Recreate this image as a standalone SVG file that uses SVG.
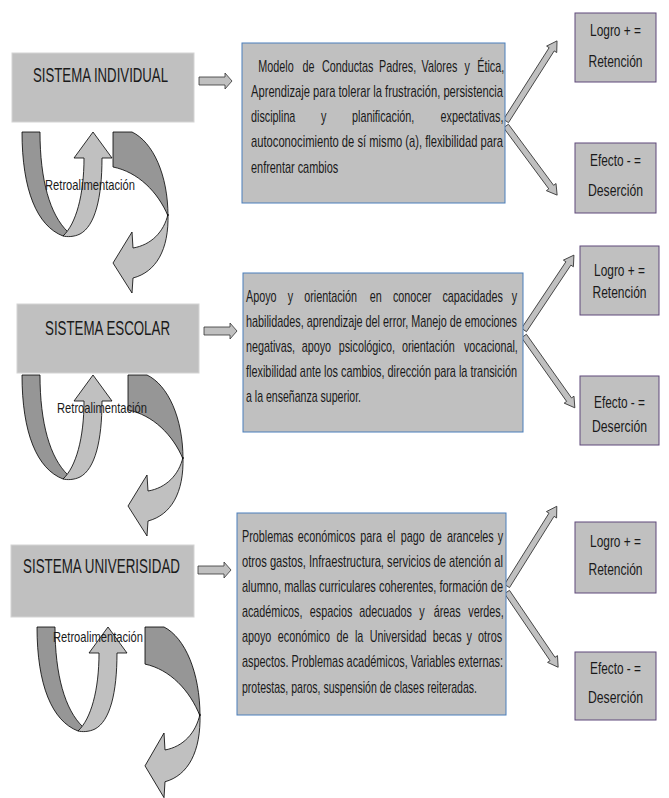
<svg xmlns="http://www.w3.org/2000/svg" xmlns:xlink="http://www.w3.org/1999/xlink" width="669" height="798" viewBox="0 0 669 798">
<style>
.sys{fill:#c0c0c0;stroke:#d4d4d4;stroke-width:1}
.tb{fill:#c0c0c0;stroke:#4a7ebb;stroke-width:1}
.res{fill:#c0c0c0;stroke:#5f497a;stroke-width:1}
.arr{fill:#c0c0c0;stroke:#333;stroke-width:0.8}
.dk{fill:#969696;stroke:#000;stroke-width:0.8}
.lt{fill:#c0c0c0;stroke:#000;stroke-width:0.8}
text{font-family:"Liberation Sans",Arial,sans-serif;fill:#1a1a1a}
.h{font-size:20px}
.b{font-size:16px}
.r{font-size:16px}
.f{font-size:14px}
</style>
<defs>
<g id="loopL">
<path class="dk" d="M22,132 L40,132 C40,180 50,215 68,232 L63,236 C37,226 22,190 22,132 Z"/>
<path class="lt" d="M63,236 C76,224 84,195 84,158 L74,158 L93,132 L112,158 L102,158 C102,198 95,226 80,234 C74,237 67,237 63,236 Z"/>
</g>
<g id="loopR">
<path class="dk" d="M113,132 L132,132 C153,142 168,175 168,216 C158,192 138,172 113,167 Z"/>
<path class="lt" d="M168,214 C164,232 151,245 133,248 L132,232 L113,263 L132,293 L133,278 C156,272 169,250 168,214 Z"/>
</g>
</defs>

<g id="connectors">
<use xlink:href="#loopL"/>
<use xlink:href="#loopR"/>
<use xlink:href="#loopL" transform="translate(0,243)"/>
<use xlink:href="#loopR" transform="translate(15,243)"/>
<use xlink:href="#loopL" transform="translate(15,495)"/>
<use xlink:href="#loopR" transform="translate(32,627) scale(1,1.06) translate(0,-132)"/>
<path class="arr" d="M199,77 L225,77 L225,73 L232,81 L225,89 L225,85 L199,85 Z"/>
<path class="arr" d="M204,327 L230,327 L230,323 L237,331 L230,339 L230,335 L204,335 Z"/>
<path class="arr" d="M198,566 L224,566 L224,562 L231,570 L224,578 L224,574 L198,574 Z"/>
<polygon class="arr" transform="translate(506,121) rotate(-57.5)" points="0,-3 85,-3 85,-6 95,0 85,6 85,3 0,3"/>
<polygon class="arr" transform="translate(506,126) rotate(53.5)" points="0,-3 76,-3 76,-6 86,0 76,6 76,3 0,3"/>
<polygon class="arr" transform="translate(524,330) rotate(-56.3)" points="0,-3 80,-3 80,-6 90,0 80,6 80,3 0,3"/>
<polygon class="arr" transform="translate(524,336) rotate(54.7)" points="0,-3 78,-3 78,-6 88,0 78,6 78,3 0,3"/>
<polygon class="arr" transform="translate(507,586) rotate(-58)" points="0,-3 84,-3 84,-6 94,0 84,6 84,3 0,3"/>
<polygon class="arr" transform="translate(507,592) rotate(55.8)" points="0,-3 81,-3 81,-6 91,0 81,6 81,3 0,3"/>
<text class="f" transform="matrix(0.8 0 0 1 45 190)" textLength="112.5" lengthAdjust="spacingAndGlyphs">Retroalimentación</text>
<text class="f" transform="matrix(0.8 0 0 1 57 413)" textLength="112.5" lengthAdjust="spacingAndGlyphs">Retroalimentación</text>
<text class="f" transform="matrix(0.8 0 0 1 53 642)" textLength="112.5" lengthAdjust="spacingAndGlyphs">Retroalimentación</text>
</g>

<g id="sistema-individual">
<rect class="sys" x="12" y="53" width="182" height="69"/>
<text class="h" transform="matrix(0.643 0 0 1 33 82)" textLength="210" lengthAdjust="spacingAndGlyphs">SISTEMA INDIVIDUAL</text>
</g>
<g id="sistema-escolar">
<rect class="sys" x="17" y="304" width="182" height="69"/>
<text class="h" transform="matrix(0.66 0 0 1 45 335)" textLength="189.4" lengthAdjust="spacingAndGlyphs">SISTEMA ESCOLAR</text>
</g>
<g id="sistema-universidad">
<rect class="sys" x="11" y="545" width="183" height="72"/>
<text class="h" transform="matrix(0.667 0 0 1 23 573)" textLength="235.4" lengthAdjust="spacingAndGlyphs">SISTEMA UNIVERISIDAD</text>
</g>

<g id="factores-individual">
<rect class="tb" x="242" y="43" width="263" height="160"/>
<g class="b">
<text transform="matrix(0.675 0 0 1 0 72)"><tspan x="382.7">Modelo</tspan><tspan x="448.3">de</tspan><tspan x="476.9">Conductas</tspan><tspan x="561.6">Padres,</tspan><tspan x="624.6">Valores</tspan><tspan x="688.3">y</tspan><tspan x="707">Ética,</tspan></text>
<text transform="matrix(0.675 0 0 1 251 97)" textLength="373.3" lengthAdjust="spacingAndGlyphs">Aprendizaje para tolerar la frustración, persistencia</text>
<text transform="matrix(0.675 0 0 1 0 122)"><tspan x="371.9">disciplina</tspan><tspan x="475.6">y</tspan><tspan x="521.5">planificación,</tspan><tspan x="652.7">expectativas,</tspan></text>
<text transform="matrix(0.675 0 0 1 251 147)" textLength="373.3" lengthAdjust="spacingAndGlyphs">autoconocimiento de sí mismo (a), flexibilidad para</text>
<text transform="matrix(0.675 0 0 1 251 173)" textLength="129.3" lengthAdjust="spacingAndGlyphs">enfrentar cambios</text>
</g>
</g>

<g id="factores-escolar">
<rect class="tb" x="243" y="273" width="280" height="159"/>
<g class="b">
<text transform="matrix(0.675 0 0 1 0 302)"><tspan x="364.4">Apoyo</tspan><tspan x="426.2">y</tspan><tspan x="450.7">orientación</tspan><tspan x="547.7">en</tspan><tspan x="582.1">conocer</tspan><tspan x="655.4">capacidades</tspan><tspan x="758.1">y</tspan></text>
<text transform="matrix(0.675 0 0 1 246 327)" textLength="401.5" lengthAdjust="spacingAndGlyphs">habilidades, aprendizaje del error, Manejo de emociones</text>
<text transform="matrix(0.675 0 0 1 0 352)"><tspan x="364.4">negativas,</tspan><tspan x="447">apoyo</tspan><tspan x="501.8">psicológico,</tspan><tspan x="595.4">orientación</tspan><tspan x="687.3">vocacional,</tspan></text>
<text transform="matrix(0.675 0 0 1 246 377)" textLength="401.5" lengthAdjust="spacingAndGlyphs">flexibilidad ante los cambios, dirección para la transición</text>
<text transform="matrix(0.675 0 0 1 246 402)" textLength="170.4" lengthAdjust="spacingAndGlyphs">a la enseñanza superior.</text>
</g>
</g>

<g id="factores-universidad">
<rect class="tb" x="237" y="513" width="269" height="202"/>
<g class="b">
<text transform="matrix(0.675 0 0 1 0 542)"><tspan x="358.5">Problemas</tspan><tspan x="441.3">económicos</tspan><tspan x="533.8">para</tspan><tspan x="573.3">el</tspan><tspan x="593.9">pago</tspan><tspan x="636.6">de</tspan><tspan x="662.2">aranceles</tspan><tspan x="737.3">y</tspan></text>
<text transform="matrix(0.675 0 0 1 242 567)" textLength="386.7" lengthAdjust="spacingAndGlyphs">otros gastos, Infraestructura, servicios de atención al</text>
<text transform="matrix(0.675 0 0 1 242 592)" textLength="386.7" lengthAdjust="spacingAndGlyphs">alumno, mallas curriculares coherentes, formación de</text>
<text transform="matrix(0.675 0 0 1 0 617)"><tspan x="358.5">académicos,</tspan><tspan x="459">espacios</tspan><tspan x="532.1">adecuados</tspan><tspan x="621.3">y</tspan><tspan x="642.5">áreas</tspan><tspan x="693.8">verdes,</tspan></text>
<text transform="matrix(0.675 0 0 1 0 642)"><tspan x="358.5">apoyo</tspan><tspan x="411.6">económico</tspan><tspan x="498.7">de</tspan><tspan x="525.9">la</tspan><tspan x="547.7">Universidad</tspan><tspan x="641.3">becas</tspan><tspan x="691">y</tspan><tspan x="708.3">otros</tspan></text>
<text transform="matrix(0.675 0 0 1 242 667)" textLength="386.7" lengthAdjust="spacingAndGlyphs">aspectos. Problemas académicos, Variables externas:</text>
<text transform="matrix(0.675 0 0 1 242 693)" textLength="348.1" lengthAdjust="spacingAndGlyphs">protestas, paros, suspensión de clases reiteradas.</text>
</g>
</g>

<g id="logro-1">
<rect class="res" x="575" y="13" width="81" height="69"/>
<text class="r" x="590" y="36" textLength="51" lengthAdjust="spacingAndGlyphs">Logro + =</text>
<text class="r" x="588.5" y="67" textLength="54" lengthAdjust="spacingAndGlyphs">Retención</text>
</g>
<g id="efecto-1">
<rect class="res" x="575" y="143" width="81" height="70"/>
<text class="r" x="590" y="166" textLength="51" lengthAdjust="spacingAndGlyphs">Efecto - =</text>
<text class="r" x="588" y="196" textLength="55" lengthAdjust="spacingAndGlyphs">Deserción</text>
</g>
<g id="logro-2">
<rect class="res" x="580" y="246" width="79" height="69"/>
<text class="r" x="594" y="276" textLength="51" lengthAdjust="spacingAndGlyphs">Logro + =</text>
<text class="r" x="592.5" y="298" textLength="54" lengthAdjust="spacingAndGlyphs">Retención</text>
</g>
<g id="efecto-2">
<rect class="res" x="580" y="376" width="79" height="69"/>
<text class="r" x="594" y="408" textLength="51" lengthAdjust="spacingAndGlyphs">Efecto - =</text>
<text class="r" x="592" y="432" textLength="55" lengthAdjust="spacingAndGlyphs">Deserción</text>
</g>
<g id="logro-3">
<rect class="res" x="575" y="522" width="81" height="71"/>
<text class="r" x="590" y="547" textLength="51" lengthAdjust="spacingAndGlyphs">Logro + =</text>
<text class="r" x="588.5" y="575" textLength="54" lengthAdjust="spacingAndGlyphs">Retención</text>
</g>
<g id="efecto-3">
<rect class="res" x="575" y="652" width="81" height="68"/>
<text class="r" x="590" y="674" textLength="51" lengthAdjust="spacingAndGlyphs">Efecto - =</text>
<text class="r" x="588" y="703" textLength="55" lengthAdjust="spacingAndGlyphs">Deserción</text>
</g>
</svg>
